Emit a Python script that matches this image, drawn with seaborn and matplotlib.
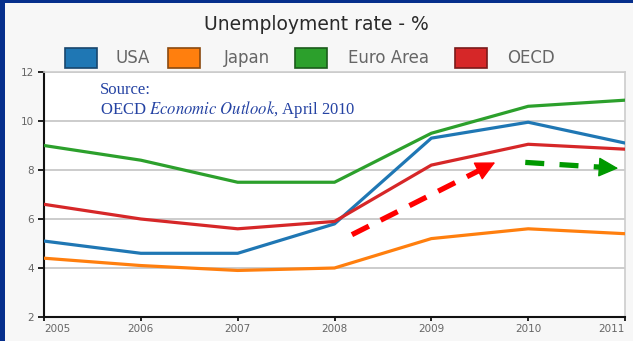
import matplotlib
matplotlib.use("Agg")
import matplotlib.pyplot as plt
import numpy as np
import pandas as pd
import seaborn as sns
from matplotlib.patches import Rectangle

years = [2005, 2006, 2007, 2008, 2009, 2010, 2011]
usa = [5.1, 4.6, 4.6, 5.8, 9.3, 9.95, 9.1]
japan = [4.4, 4.1, 3.9, 4.0, 5.2, 5.6, 5.4]
euro_area = [9.0, 8.4, 7.5, 7.5, 9.5, 10.6, 10.85]
oecd = [6.6, 6.0, 5.6, 5.9, 8.2, 9.05, 8.85]
series_names = ["USA", "Japan", "Euro Area", "OECD"]
series_colors = ["#1f77b4", "#ff7f0e", "#2ca02c", "#d62728"]
edge_colors = ["#18466d", "#8a4a10", "#1a5c1a", "#7a1a1a"]
y_ticks = [2, 4, 6, 8, 10, 12]

# trend arrows: (start, tip) in data units
rise_arrow = [(2008.18, 5.36), (2009.66, 8.31)]
flat_arrow = [(2009.97, 8.31), (2010.93, 8.07)]

df = pd.DataFrame({
    "year": years * 4,
    "rate": usa + japan + euro_area + oecd,
    "region": sum([[n] * len(years) for n in series_names], []),
})

sns.set_style("white")
W, H = 633, 341
fig = plt.figure(figsize=(W / 100, H / 100), dpi=100, facecolor="#f7f7f7")

# frame bands
fig.patches.append(Rectangle((0, 1 - 3 / H), 1, 3 / H, transform=fig.transFigure,
                             facecolor="#062f8c", edgecolor="none", zorder=0))
fig.patches.append(Rectangle((0, 0), 5 / W, 1, transform=fig.transFigure,
                             facecolor="#062f8c", edgecolor="none", zorder=0))

x0, x1, ytop, ybot = 44, 625, 72, 317
ax = fig.add_axes([x0 / W, 1 - ybot / H, (x1 - x0) / W, (ybot - ytop) / H])
ax.set_facecolor("white")

sns.lineplot(data=df, x="year", y="rate", hue="region", hue_order=series_names,
             palette=series_colors, linewidth=2.3, legend=False, ax=ax, zorder=3)

ax.set_xlim(2005, 2011)
ax.set_ylim(2, 12)
ax.set_xticks(years)
ax.set_xticklabels([str(y) for y in years])
ax.set_yticks(y_ticks)
ax.set_yticklabels([str(v) for v in y_ticks])
ax.set_xlabel("")
ax.set_ylabel("")
ax.grid(axis="y", color="#c8c8c8", linewidth=1.3, zorder=1)
ax.grid(axis="x", visible=False)
ax.tick_params(axis="both", direction="out", length=4, width=1.3, color="#111111",
               labelsize=7.5, labelcolor="#666666", pad=3)
ax.tick_params(axis="x", length=3, pad=2, bottom=True)
ax.tick_params(axis="y", left=True)
xlabels = ax.get_xticklabels()
xlabels[0].set_horizontalalignment("left")
xlabels[-1].set_horizontalalignment("right")
for side in ["left", "bottom"]:
    ax.spines[side].set_color("#111111")
    ax.spines[side].set_linewidth(1.5)
for side in ["top", "right"]:
    ax.spines[side].set_color("#cccccc")
    ax.spines[side].set_linewidth(1.2)


def dashed_arrow(ax, start, tip, color, dashes, head_frac):
    sx, sy = start
    tx, ty = tip
    bx = tx - head_frac * (tx - sx)
    by = ty - head_frac * (ty - sy)
    ax.plot([sx, bx], [sy, by], color=color, linewidth=3.8, dashes=dashes,
            solid_capstyle="butt", dash_capstyle="butt", zorder=5)
    ax.annotate("", xy=(tx, ty), xytext=(bx, by),
                arrowprops=dict(arrowstyle="-|>,head_length=1.0,head_width=0.5",
                                color=color, lw=1, mutation_scale=12.5,
                                shrinkA=0, shrinkB=0), zorder=6)


dashed_arrow(ax, rise_arrow[0], rise_arrow[1], "#ff0000", (3.6, 2.5), 0.1)
dashed_arrow(ax, flat_arrow[0], flat_arrow[1], "#009900", (3.6, 2.9), 0.18)

# source note
ax.text(0.096, 0.912, "Source:", transform=ax.transAxes, fontsize=12,
        family="Liberation Serif", color="#2543a3", va="baseline", ha="left")
ax.text(0.096, 0.830, "OECD $\\mathit{Economic\\ Outlook}$, April 2010",
        transform=ax.transAxes, fontsize=12, family="Liberation Serif",
        color="#2543a3", va="baseline", ha="left", math_fontfamily="stix")

# title
fig.text(316 / W, 1 - 24 / H, "Unemployment rate - %", ha="center", va="center",
         fontsize=13.5, color="#2a2a2a")

# legend row: swatch boxes followed by labels
swatch_left = [65, 168, 295, 455]
label_center = [133, 247, 389, 531]
row_y, sw_w, sw_h = 58, 32, 20
for name, c, e, sl, lc in zip(series_names, series_colors, edge_colors,
                              swatch_left, label_center):
    fig.patches.append(Rectangle((sl / W, 1 - (row_y + sw_h / 2) / H), sw_w / W, sw_h / H,
                                 transform=fig.transFigure, facecolor=c,
                                 edgecolor=e, linewidth=1.2, zorder=2))
    fig.text(lc / W, 1 - row_y / H, name, ha="center", va="center",
             fontsize=12, color="#666666")

fig.savefig("out.png", dpi=100, facecolor=fig.get_facecolor())
